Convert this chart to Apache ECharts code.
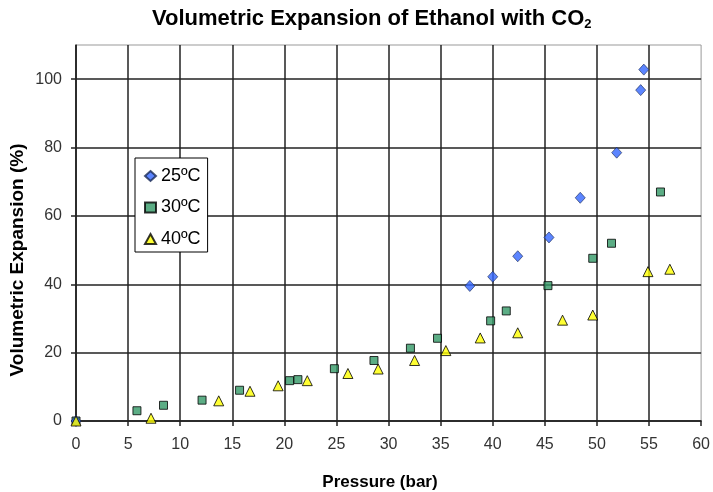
<!DOCTYPE html>
<html>
<head>
<meta charset="utf-8">
<script src="https://cdn.jsdelivr.net/npm/echarts@6/dist/echarts.min.js"></script>
<style>html,body{margin:0;padding:0;background:#fff}#c{width:713px;height:492px}</style>
</head>
<body>
<div id="c"></div>
<script>
// Data: [pressure (bar), volumetric expansion (%)]
var series25 = [[0,0],[37.8,39.5],[40.0,42.2],[42.4,48.2],[45.4,53.7],[48.4,65.3],[51.9,78.5],[54.2,96.8],[54.5,102.8]];
var series30 = [[0,0],[5.85,3.0],[8.4,4.6],[12.1,6.1],[15.7,9.0],[20.5,11.8],[21.3,12.1],[24.8,15.3],[28.6,17.7],[32.1,21.3],[34.7,24.2],[39.8,29.3],[41.3,32.2],[45.3,39.6],[49.6,47.6],[51.4,52.0],[56.1,67.0]];
var series40 = [[0,0],[7.2,0.8],[13.7,5.9],[16.7,8.7],[19.4,10.3],[22.2,11.8],[26.1,13.9],[29.0,15.2],[32.5,17.7],[35.5,20.6],[38.8,24.3],[42.4,25.8],[46.7,29.5],[49.6,31.0],[54.9,43.7],[57.0,44.4]];
var seriesNames = ['25ºC','30ºC','40ºC'];
var xTicks = {min:0, max:60, interval:5};
var yTicks = {min:0, max:110, interval:20};

var FONT = 'Liberation Sans, Arial, sans-serif';
var chart = echarts.init(document.getElementById('c'), null, {renderer:'canvas'});
chart.setOption({
  animation:false,
  backgroundColor:'#fff',
  title:{
    left:152, top:7, padding:0,
    text:'{a|Volumetric Expansion of Ethanol with CO}{s|2}',
    textStyle:{
      rich:{
        a:{fontFamily:FONT, fontSize:22, fontWeight:'bold', color:'#000', lineHeight:24},
        s:{fontFamily:FONT, fontSize:13, fontWeight:'bold', color:'#000', lineHeight:24, padding:[10,0,0,0]}
      }
    }
  },
  grid:{left:76, right:9, top:45, bottom:71, show:true, borderColor:'#999', borderWidth:1, backgroundColor:'#fff'},
  xAxis:{
    type:'value', min:xTicks.min, max:xTicks.max, interval:xTicks.interval,
    axisLine:{show:true, lineStyle:{color:'#222', width:1.5}},
    axisTick:{show:true, inside:false, length:5, lineStyle:{color:'#222', width:1.5}},
    axisLabel:{fontFamily:FONT, fontSize:16, color:'#333', margin:16},
    splitLine:{show:true, showMaxLine:false, lineStyle:{color:'#222', width:1.5}}
  },
  yAxis:{
    type:'value', min:yTicks.min, max:yTicks.max, interval:yTicks.interval,
    axisLine:{show:true, lineStyle:{color:'#222', width:1.5}},
    axisTick:{show:true, inside:false, length:5, lineStyle:{color:'#222', width:1.5}},
    axisLabel:{fontFamily:FONT, fontSize:16, color:'#333', margin:14, showMaxLabel:false},
    splitLine:{show:true, showMaxLine:false, lineStyle:{color:'#222', width:1.5}}
  },
  legend:{
    orient:'vertical', left:135, top:158,
    backgroundColor:'#fff', borderColor:'#000', borderWidth:1,
    padding:[9,7,4,9], itemGap:13.5, itemWidth:11, itemHeight:10,
    textStyle:{fontFamily:FONT, fontSize:18, color:'#000', lineHeight:18},
    data:seriesNames
  },
  graphic:[
    {type:'text', x:380, y:482, style:{text:'Pressure (bar)', font:'bold 17px '+FONT, fill:'#000', textAlign:'center', textVerticalAlign:'middle'}},
    {type:'text', x:18, y:260, rotation:Math.PI/2, style:{text:'Volumetric Expansion (%)', font:'bold 19px '+FONT, fill:'#000', textAlign:'center', textVerticalAlign:'middle'}}
  ],
  series:[
    {name:seriesNames[0], type:'scatter', data:series25, symbol:'diamond', symbolSize:[10,11],
     itemStyle:{color:'#3366FF', borderColor:'#1a2a55', borderWidth:0.8}, z:3},
    {name:seriesNames[1], type:'scatter', data:series30, symbol:'rect', symbolSize:8,
     itemStyle:{color:'#339966', borderColor:'#000', borderWidth:1}, z:2},
    {name:seriesNames[2], type:'scatter', data:series40, symbol:'triangle', symbolSize:[10,10],
     itemStyle:{color:'#FFFF00', borderColor:'#000', borderWidth:1}, z:4}
  ]
});
</script>
</body>
</html>
